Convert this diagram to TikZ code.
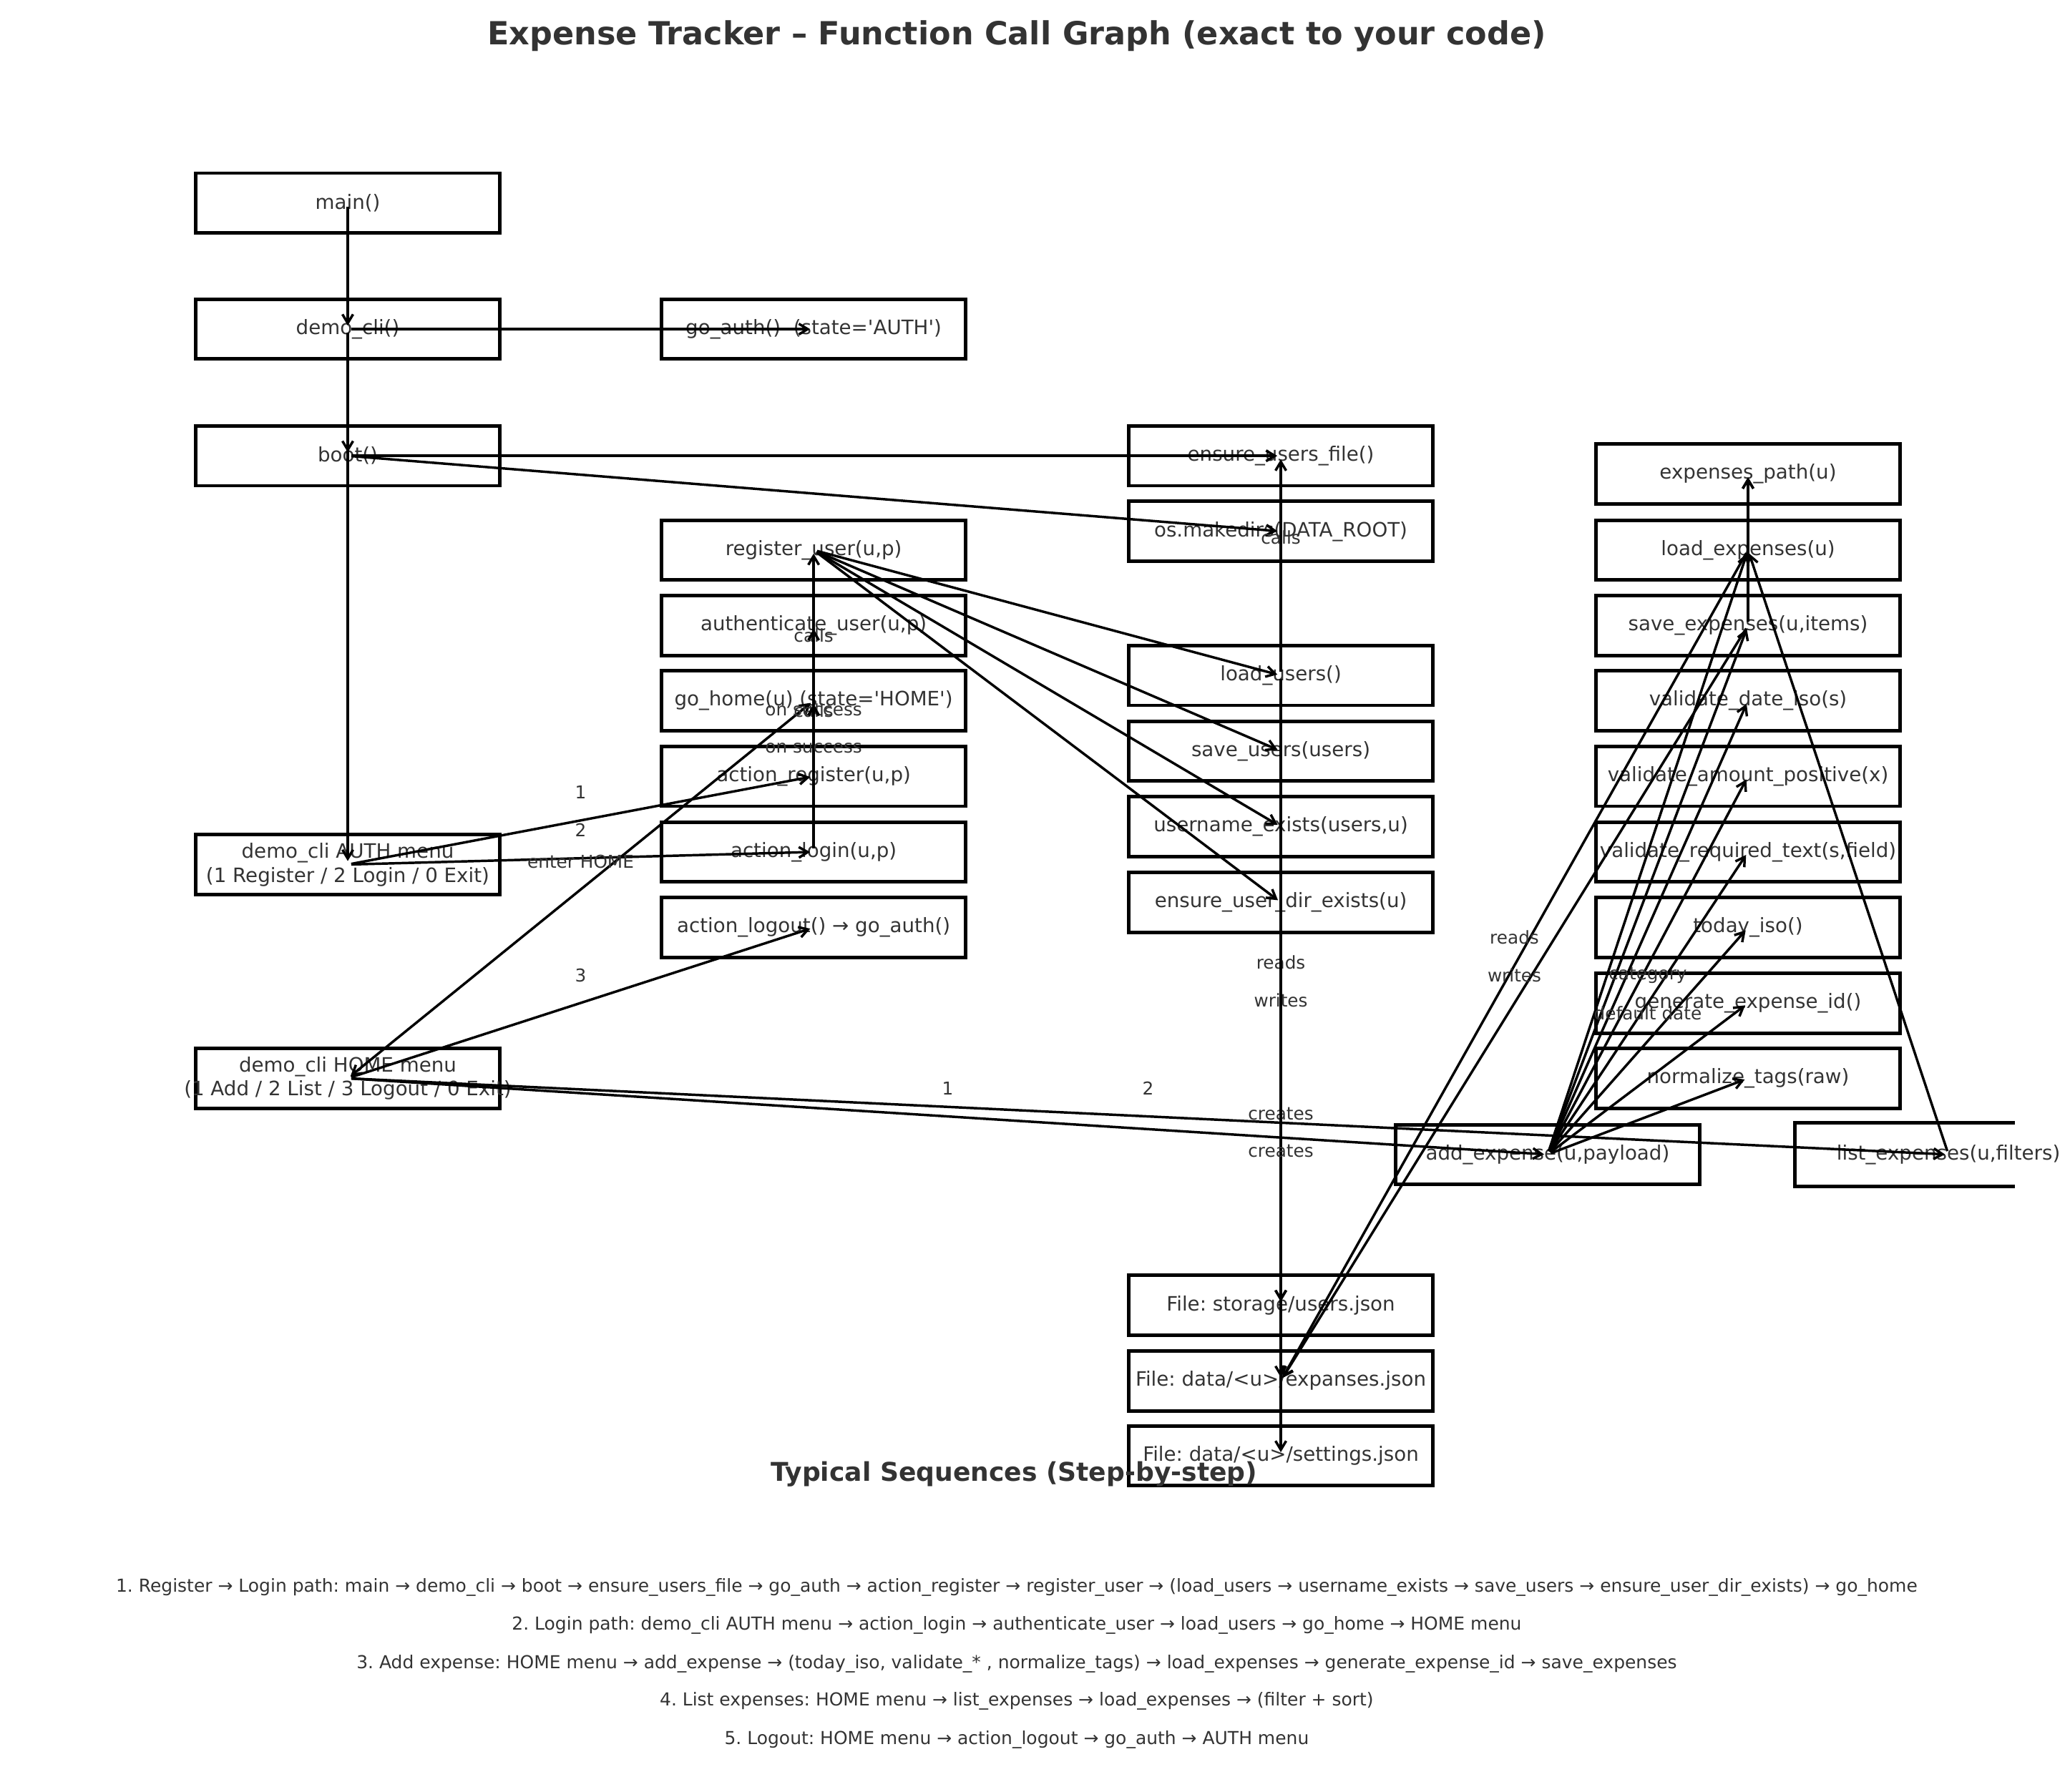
\documentclass[tikz,border=0pt]{standalone}
\usepackage{fontspec}
\setmainfont{DejaVu Sans}
\frenchspacing
\usetikzlibrary{arrows.meta}
\definecolor{txtgray}{HTML}{333333}
\tikzset{every picture/.style={line width=0.55pt}}
\tikzset{
  fnbox/.style={draw=black, line width=2pt, minimum width=171.8pt, minimum height=33.8pt, inner sep=0pt, text=txtgray, font=\fontsize{11.2}{13.7}\selectfont, align=center},
  fnopen/.style={fnbox, draw=none},
  boxln/.style={draw=black, line width=2pt},
  call/.style={draw=black, line width=1.4pt, shorten <=2pt, shorten >=2pt, -{Straight Barb[length=5pt,width=6pt]}},
  twoway/.style={call, {Straight Barb[length=5pt,width=6pt]}-{Straight Barb[length=5pt,width=6pt]}},
  lbl/.style={midway, yshift=15.75pt, inner sep=0pt, text=txtgray, font=\fontsize{10}{12}\selectfont},
  seqline/.style={inner sep=0pt, text=txtgray, font=\fontsize{10.1}{12}\selectfont},
}

\begin{document}
\begin{tikzpicture}[x=0.75pt,y=0.75pt,yscale=-1,xscale=1]
\useasboundingbox (0,0) rectangle (1559.6,1350);

% Title
\node [text=txtgray, font=\fontsize{18}{21}\selectfont\bfseries] (title) at (766,27) {Expense Tracker – Function Call Graph (exact to your code)};

% Text Node: entry column
\node [fnbox] (main) at (262,153) {main()};
\node [fnbox] (democli) at (262,248) {demo\_cli()};
\node [fnbox] (boot) at (262,343.5) {boot()};
\node [fnbox] (authmenu) at (262,651.5) {\makebox[0pt]{demo\_cli AUTH menu}\\\makebox[0pt]{(1 Register / 2 Login / 0 Exit)}};
\node [fnbox] (homemenu) at (262,812.6) {\makebox[0pt]{demo\_cli HOME menu}\\\makebox[0pt]{(1 Add / 2 List / 3 Logout / 0 Exit)}};

% Text Node: auth column
\node [fnbox] (goauth) at (613,248) {go\_auth()\ \ (state=\textquotesingle AUTH\textquotesingle)};
\node [fnbox] (reguser) at (613,414.5) {register\_user(u,p)};
\node [fnbox] (authuser) at (613,471.3) {authenticate\_user(u,p)};
\node [fnbox] (gohome) at (613,528) {go\_home(u) (state=\textquotesingle HOME\textquotesingle)};
\node [fnbox] (actreg) at (613,585) {action\_register(u,p)};
\node [fnbox] (actlogin) at (613,642) {action\_login(u,p)};
\node [fnbox] (actlogout) at (613,699) {action\_logout() → go\_auth()};

% Text Node: storage column
\node [fnbox] (ensureusers) at (965,343.5) {ensure\_users\_file()};
\node [fnbox] (makedirs) at (965,400.4) {os.makedirs(DATA\_ROOT)};
\node [fnbox] (loadusers) at (965,509) {load\_users()};
\node [fnbox] (saveusers) at (965,566) {save\_users(users)};
\node [fnbox] (userexists) at (965,623) {username\_exists(users,u)};
\node [fnbox] (userdir) at (965,680) {ensure\_user\_dir\_exists(u)};
\node [fnbox] (usersjson) at (965,983.5) {File: storage/users.json};
\node [fnbox] (expjson) at (965,1040.6) {File: data/<u>/expanses.json};
\node [fnbox] (setjson) at (965,1097) {File: data/<u>/settings.json};

% Text Node: expense column
\node [fnbox] (exppath) at (1317,357) {expenses\_path(u)};
\node [fnbox] (loadexp) at (1317,414.5) {load\_expenses(u)};
\node [fnbox] (saveexp) at (1317,471.3) {save\_expenses(u,items)};
\node [fnbox] (valdate) at (1317,528) {validate\_date\_iso(s)};
\node [fnbox] (valamount) at (1317,585) {validate\_amount\_positive(x)};
\node [fnbox] (valtext) at (1317,642) {validate\_required\_text(s,field)};
\node [fnbox] (todayiso) at (1317,699) {today\_iso()};
\node [fnbox] (genid) at (1317,756) {generate\_expense\_id()};
\node [fnbox] (normtags) at (1317,812.6) {normalize\_tags(raw)};
\node [fnbox] (addexp) at (1166,870) {add\_expense(u,payload)};
\node [fnopen] (listexp) at (1468,870) {list\_expenses(u,filters)};
%Shape: Rectangle cut at the right margin
\draw [boxln] (listexp.north west) ++(166,0) -- (listexp.north west) -- (listexp.south west) -- ++(166,0);

%Straight Lines: start-up
\draw [call] (main.center) -- (democli.center);
\draw [call] (democli.center) -- (boot.center);
\draw [call] (democli.center) -- (goauth.center);
\draw [call] (democli.center) -- (authmenu.center);
\draw [call] (boot.center) -- (ensureusers.center);
\draw [call] (boot.center) -- (makedirs.center);

%Straight Lines: menus
\draw [call] (authmenu.center) -- (actreg.center) node [lbl] {1};
\draw [call] (authmenu.center) -- (actlogin.center) node [lbl] {2};
\draw [call] (homemenu.center) -- (actlogout.center) node [lbl] {3};
\draw [twoway] (gohome.center) -- (homemenu.center) node [lbl] {enter HOME};
\draw [call] (homemenu.center) -- (addexp.center) node [lbl] {1};
\draw [call] (homemenu.center) -- (listexp.center) node [lbl] {2};

%Straight Lines: auth actions
\draw [call] (actreg.center) -- (reguser.center) node [lbl] {calls};
\draw [call] (actlogin.center) -- (authuser.center) node [lbl] {calls};
\draw [call] (actreg.center) -- (gohome.center) node [lbl] {on success};
\draw [call] (actlogin.center) -- (gohome.center) node [lbl] {on success};
\draw [call] (reguser.center) -- (loadusers.center);
\draw [call] (reguser.center) -- (saveusers.center);
\draw [call] (reguser.center) -- (userexists.center);
\draw [call] (reguser.center) -- (userdir.center);

%Straight Lines: user storage
\draw [call] (loadusers.center) -- (ensureusers.center) node [lbl] {calls};
\draw [call] (loadusers.center) -- (usersjson.center) node [lbl] {reads};
\draw [call] (saveusers.center) -- (usersjson.center) node [lbl] {writes};
\draw [call] (userdir.center) -- (expjson.center) node [lbl] {creates};
\draw [call] (userdir.center) -- (setjson.center) node [lbl] {creates};

%Straight Lines: expenses
\draw [call] (loadexp.center) -- (expjson.center) node [lbl] {reads};
\draw [call] (saveexp.center) -- (expjson.center) node [lbl] {writes};
\draw [call] (loadexp.center) -- (exppath.center);
\draw [call] (saveexp.center) -- (exppath.center);
\draw [call] (addexp.center) -- (loadexp.center);
\draw [call] (addexp.center) -- (saveexp.center);
\draw [call] (addexp.center) -- (valdate.center);
\draw [call] (addexp.center) -- (valamount.center);
\draw [call] (addexp.center) -- (valtext.center) node [lbl] {category};
\draw [call] (addexp.center) -- (todayiso.center) node [lbl] {default date};
\draw [call] (addexp.center) -- (genid.center);
\draw [call] (addexp.center) -- (normtags.center);
\draw [call] (listexp.center) -- (loadexp.center);

% Text Node: sequences
\node [text=txtgray, font=\fontsize{14.6}{17}\selectfont\bfseries] (seqtitle) at (764,1111) {Typical Sequences (Step-by-step)};
\node [seqline] (seq1) at (766,1196) {1. Register → Login path: main → demo\_cli → boot → ensure\_users\_file → go\_auth → action\_register → register\_user → (load\_users → username\_exists → save\_users → ensure\_user\_dir\_exists) → go\_home};
\node [seqline] (seq2) at (766,1225) {2. Login path: demo\_cli AUTH menu → action\_login → authenticate\_user → load\_users → go\_home → HOME menu};
\node [seqline] (seq3) at (766,1254) {3. Add expense: HOME menu → add\_expense → (today\_iso, validate\_* , normalize\_tags) → load\_expenses → generate\_expense\_id → save\_expenses};
\node [seqline] (seq4) at (766,1282) {4. List expenses: HOME menu → list\_expenses → load\_expenses → (filter + sort)};
\node [seqline] (seq5) at (766,1311) {5. Logout: HOME menu → action\_logout → go\_auth → AUTH menu};
\end{tikzpicture}
\end{document}
